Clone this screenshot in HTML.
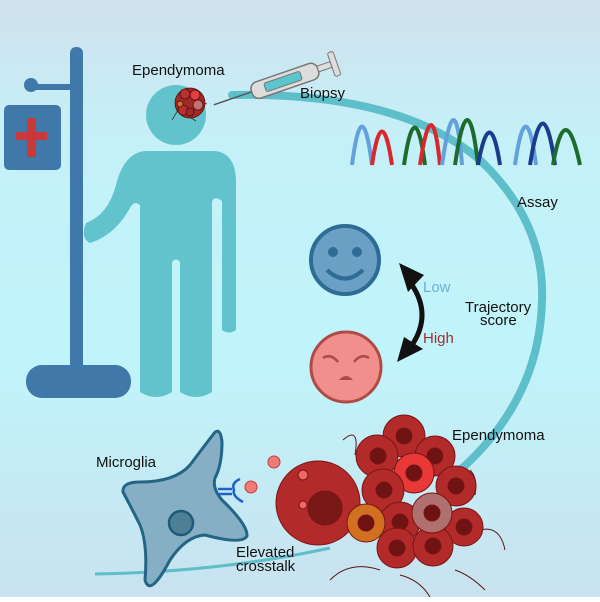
<!DOCTYPE html>
<html><head><meta charset="utf-8"><style>
html,body{margin:0;padding:0}
body{width:600px;height:597px;overflow:hidden;font-family:"Liberation Sans",sans-serif}
</style></head><body>
<svg width="600" height="597" viewBox="0 0 600 597" xmlns="http://www.w3.org/2000/svg">
<defs>
<linearGradient id="bg" x1="0" y1="0" x2="0" y2="1">
<stop offset="0" stop-color="#d0e2ee"/><stop offset="0.25" stop-color="#c4f1f8"/>
<stop offset="0.6" stop-color="#c0f4fa"/><stop offset="1" stop-color="#c9e2ef"/>
</linearGradient>
</defs>
<rect width="600" height="597" fill="url(#bg)"/>
<!-- arc -->
<path d="M232 95 Q400 92 480 160 Q545 222 542 300 Q540 400 458 472" fill="none" stroke="#5ebfcb" stroke-width="8" stroke-linecap="round"/>
<path d="M330 548 Q220 572 95 574" fill="none" stroke="#5ebfcb" stroke-width="3"/>
<!-- IV pole -->
<g fill="#3f78a9">
<rect x="70" y="47" width="13" height="330" rx="6"/>
<rect x="26" y="365" width="105" height="33" rx="16"/>
<rect x="30" y="84" width="42" height="6"/>
<circle cx="31" cy="85" r="7"/>
<rect x="4" y="105" width="57" height="65" rx="5"/>
</g>
<rect x="27" y="118" width="9" height="39" fill="#c9393a"/>
<rect x="16" y="132" width="31" height="8" fill="#c9393a"/>
<!-- person -->
<g fill="#62c3cc">
<circle cx="176" cy="115" r="30"/>
<path d="M145 151 L215 151 Q235 153 236 180 L236 330 Q229 335 222 330 L222 201 Q214 195 212 202 L212 392 Q196 402 180 392 L180 262 Q176 257 172 262 L172 392 Q156 402 140 392 L140 205 Q134 200 130 208 Q115 235 90 243 Q80 238 86 223 Q108 215 116 185 Q124 153 145 151 Z"/>
</g>
<!-- syringe -->
<g transform="rotate(-19 285 75)">
<line x1="208" y1="80" x2="248" y2="80" stroke="#555" stroke-width="1.5"/>
<rect x="248" y="72" width="70" height="17" rx="7" fill="#ddd" stroke="#777" stroke-width="1.5"/>
<rect x="262" y="76" width="38" height="9" rx="2" fill="#5bc4cc" stroke="#777"/>
<rect x="318" y="77" width="14" height="6" fill="#ddd" stroke="#777"/>
<rect x="332" y="68" width="6" height="25" rx="2" fill="#ddd" stroke="#777"/>
</g>
<!-- small tumor on head -->
<g stroke="#5a0d0d" stroke-width="0.8">
<path d="M178 110 L172 120 M188 116 L196 121 M200 102 L207 104" stroke="#333"/>
<circle cx="190" cy="103" r="15" fill="#a02a2a"/>
<circle cx="185" cy="94" r="5" fill="#b83030"/><circle cx="195" cy="95" r="5" fill="#e04040"/>
<circle cx="198" cy="105" r="5" fill="#c27070"/><circle cx="183" cy="110" r="5" fill="#b83030"/>
<circle cx="190" cy="112" r="4" fill="#a02a2a"/><circle cx="180" cy="104" r="3" fill="#d07020"/>
</g>
<!-- chromatogram -->
<g fill="none" stroke-width="4">
<path d="M352 165 Q362 88 372 165" stroke="#64a0dc"/>
<path d="M372 165 Q382 98 392 165" stroke="#d9272e"/>
<path d="M404 165 Q415 90 425 165" stroke="#1e6b2e"/>
<path d="M420 165 Q432 85 440 165" stroke="#d9272e"/>
<path d="M442 165 Q455 75 462 165" stroke="#64a0dc"/>
<path d="M455 165 Q468 75 478 165" stroke="#1e6b2e"/>
<path d="M478 165 Q490 100 500 165" stroke="#1a3c8c"/>
<path d="M515 165 Q526 88 536 165" stroke="#64a0dc"/>
<path d="M530 165 Q543 82 555 165" stroke="#1a3c8c"/>
<path d="M553 165 Q565 95 580 165" stroke="#1e6b2e"/>
</g>
<!-- faces -->
<circle cx="345" cy="260" r="34" fill="#6aa0c4" stroke="#2e6c96" stroke-width="4"/>
<circle cx="333" cy="252" r="5" fill="#2e6c96"/><circle cx="357" cy="252" r="5" fill="#2e6c96"/>
<path d="M327 270 Q345 287 363 270" fill="none" stroke="#2e6c96" stroke-width="4"/>
<circle cx="346" cy="367" r="35" fill="#f08f8c" stroke="#b04a47" stroke-width="3"/>
<path d="M323 358 Q331 353 338 362 M354 362 Q361 353 369 358" fill="none" stroke="#b04a47" stroke-width="2.5"/>
<path d="M339 380 Q346 372 353 380 Z" fill="#b04a47"/>
<!-- double arrow -->
<path d="M412 285 Q432 315 412 345" fill="none" stroke="#111" stroke-width="5"/>
<polygon points="399,263 424,275 408,292" fill="#111"/>
<polygon points="397,362 404,337 423,349" fill="#111"/>
<!-- microglia -->
<path d="M212 436 Q220 424 222 442 Q222 465 215 478 Q212 488 222 500 Q248 525 247 536 Q242 545 205 535 Q186 536 170 560 Q150 598 145 580 Q148 545 140 525 Q130 505 123 492 Q122 482 140 482 Q175 482 190 465 Q205 445 212 436 Z" fill="#86aec4" stroke="#236585" stroke-width="3"/>
<circle cx="181" cy="523" r="12" fill="#4d7f96" stroke="#1e5b78" stroke-width="2.5"/>
<path d="M218 489 L232 489 M218 494 L232 494 M240 479 Q231 483 234 490 Q232 496 243 502" fill="none" stroke="#2060c8" stroke-width="2.5"/>
<circle cx="251" cy="487" r="6" fill="#f07a78" stroke="#c04040"/>
<circle cx="274" cy="462" r="6" fill="#f07a78" stroke="#c04040"/>
<!-- tumor cluster -->
<g stroke="#5a1414" stroke-width="1" fill="none">
<path d="M343 440 Q360 425 355 455 M470 470 Q478 478 475 495 M480 530 Q500 525 505 550 M330 580 Q350 560 380 570 M400 575 Q420 580 430 597 M455 570 Q470 575 485 590"/>
</g>
<g stroke="#7a1414" stroke-width="1">
<circle cx="318" cy="503" r="42" fill="#b32a2a"/>
<circle cx="325" cy="508" r="17" fill="#7a1818"/>
<circle cx="303" cy="475" r="5" fill="#e66"/>
<circle cx="303" cy="505" r="4" fill="#e66"/>
<circle cx="404" cy="436" r="21" fill="#b32a2a"/><circle cx="404" cy="436" r="8" fill="#6e1212"/>
<circle cx="377" cy="456" r="21" fill="#b32a2a"/><circle cx="378" cy="456" r="8" fill="#6e1212"/>
<circle cx="435" cy="456" r="20" fill="#b32a2a"/><circle cx="435" cy="456" r="8" fill="#6e1212"/>
<circle cx="414" cy="473" r="20" fill="#e83838"/><circle cx="414" cy="473" r="8" fill="#6e1212"/>
<circle cx="383" cy="490" r="21" fill="#b32a2a"/><circle cx="384" cy="490" r="8" fill="#6e1212"/>
<circle cx="456" cy="486" r="20" fill="#b32a2a"/><circle cx="456" cy="486" r="8" fill="#6e1212"/>
<circle cx="400" cy="522" r="20" fill="#b32a2a"/><circle cx="400" cy="522" r="8" fill="#6e1212"/>
<circle cx="464" cy="527" r="19" fill="#b32a2a"/><circle cx="464" cy="527" r="8" fill="#6e1212"/>
<circle cx="397" cy="548" r="20" fill="#b32a2a"/><circle cx="397" cy="548" r="8" fill="#6e1212"/>
<circle cx="433" cy="546" r="20" fill="#b32a2a"/><circle cx="433" cy="546" r="8" fill="#6e1212"/>
<circle cx="432" cy="513" r="20" fill="#b07070"/><circle cx="432" cy="513" r="8" fill="#6e1212"/>
<circle cx="366" cy="523" r="19" fill="#d07020"/><circle cx="366" cy="523" r="8" fill="#6e1212"/>
</g>
<!-- labels -->
<g font-size="15" fill="#111">
<text x="132" y="75">Ependymoma</text>
<text x="300" y="98">Biopsy</text>
<text x="517" y="207">Assay</text>
<text x="465" y="312">Trajectory</text>
<text x="480" y="325">score</text>
<text x="452" y="440">Ependymoma</text>
<text x="96" y="467">Microglia</text>
<text x="236" y="557">Elevated</text>
<text x="236" y="571">crosstalk</text>
</g>
<text x="423" y="292" font-size="15" fill="#6ab0d0">Low</text>
<text x="423" y="343" font-size="15" fill="#a03030">High</text>
</svg>
</body></html>
